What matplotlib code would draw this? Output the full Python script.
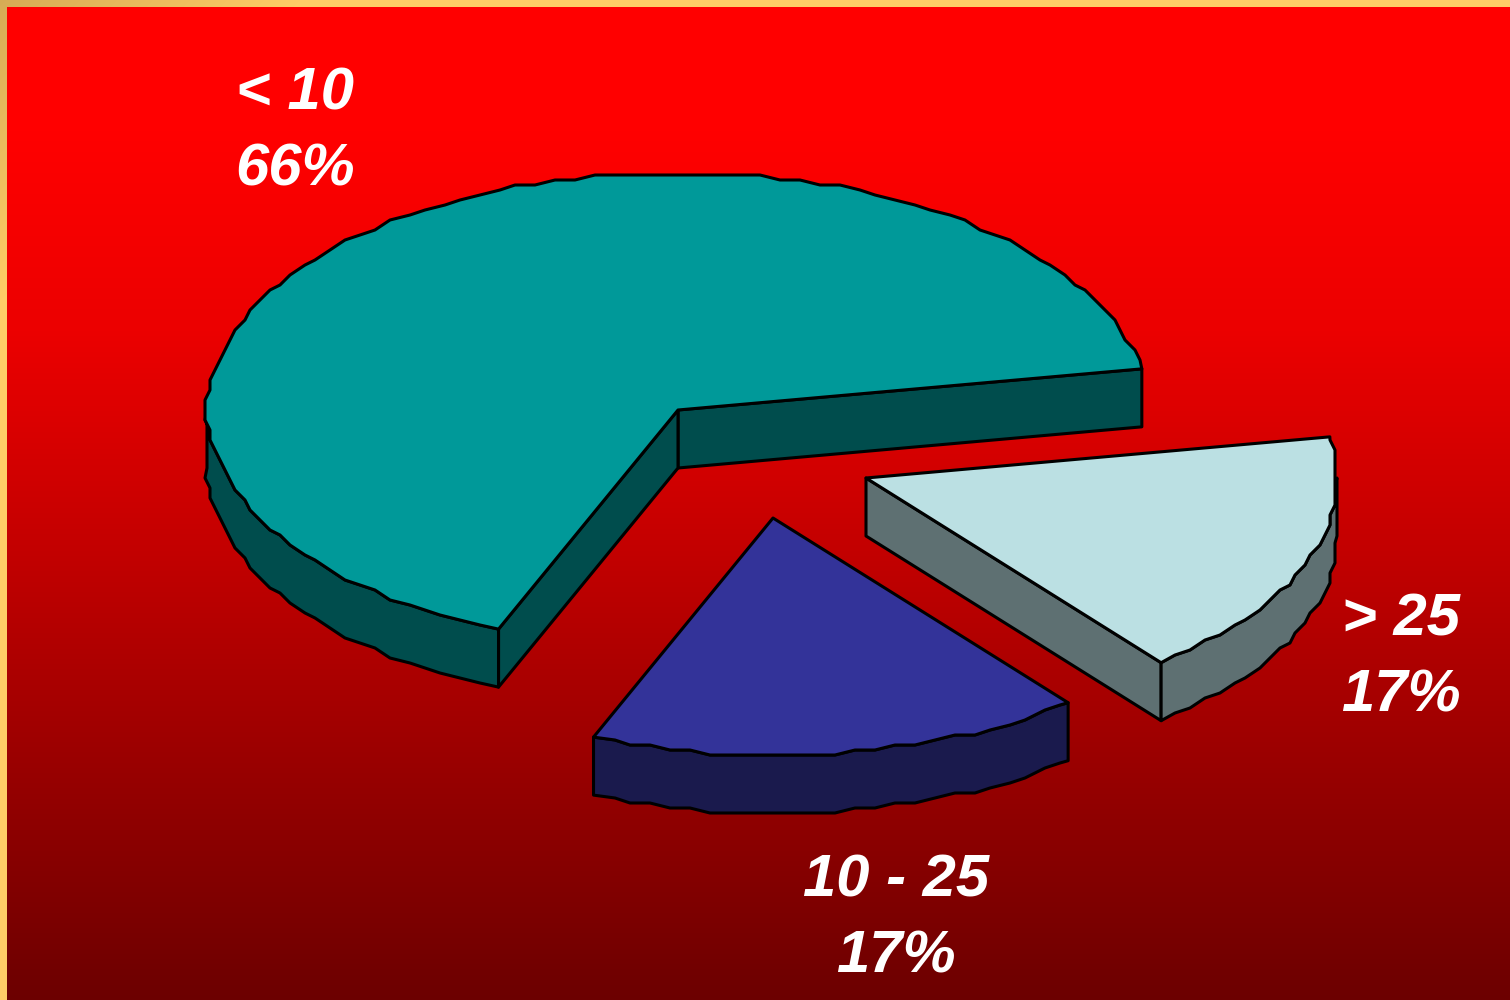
import numpy as np
import matplotlib
matplotlib.use("Agg")
import matplotlib.pyplot as plt
from matplotlib.patches import Polygon

plt.rcParams["font.family"] = ["Liberation Sans", "DejaVu Sans"]

# data
CATEGORIES = ["< 10", "10 - 25", "> 25"]
SHARES = [66, 17, 17]
SHARE_TOTAL = 100

# style and layout, in picture pixels
TOP_COLORS = ["#009999", "#333399", "#BBE0E3"]
WALL_COLORS = ["#004D4D", "#1A1A4D", "#5E7072"]
CENTERS = [(678, 410), (773, 518), (866, 478)]
LABEL_POS = [(295, 132), (896, 919), (1401, 658)]
RX, RY = 471, 237
DEPTH = 58
START_DEG = 10
GRID = 5  # the arcs in the original are stair-stepped


def ellipse_point(center, a):
    t = np.radians(a)
    return (center[0] + RX * np.cos(t), center[1] - RY * np.sin(t))


def arc_points(center, a0, a1):
    # ellipse arc, snapped to a coarse grid to get the rough edge
    pts = [ellipse_point(center, a0)]
    for a in np.arange(a0 + 2.5, a1 - 1, 2.5):
        x, y = ellipse_point(center, a)
        p = (round(x / GRID) * GRID, round(y / GRID) * GRID)
        if p != pts[-1]:
            pts.append(p)
    pts.append(ellipse_point(center, a1))
    return np.array(pts, dtype=float)


# background: red gradient, pale orange band on top and left
H, W = 1000, 1510
yy = np.arange(H)
red = np.interp(yy, [0, 130, 330, 550, 850, 1000], [255, 255, 236, 195, 137, 108])
bg = np.zeros((H, W, 3))
bg[:, :, 0] = red[:, None] / 255
band = np.array([255, 204, 102]) / 255
bg[:7, :] = band
bg[:, :7] = band
gx, gy = np.meshgrid(np.arange(W), np.arange(H))
shade = 1 - 0.16 * np.clip(1 - (gx + gy) / 300, 0, 1)
mask = (gx < 7) | (gy < 7)
bg[mask] *= shade[mask][:, None]

fig = plt.figure(figsize=(15.1, 10), dpi=100)
ax = fig.add_axes([0, 0, 1, 1])
ax.imshow(bg, extent=(0, W, H, 0), aspect="auto", interpolation="nearest", zorder=0)
ax.set_xlim(0, W)
ax.set_ylim(H, 0)
ax.axis("off")

edges = START_DEG + np.cumsum([0] + SHARES) * 360 / SHARE_TOTAL

for i, share in enumerate(SHARES):
    a0, a1 = edges[i], edges[i + 1]
    c = np.array(CENTERS[i], dtype=float)
    arc = arc_points(c, a0, a1)
    kw = dict(edgecolor="black", linewidth=2.2, joinstyle="round", zorder=2 + i)

    # only the cut faces turned towards the viewer
    for ang, visible in ((a0, np.cos(np.radians(a0)) > 0), (a1, np.cos(np.radians(a1)) < 0)):
        if visible:
            end = np.array(ellipse_point(c, ang))
            face = np.array([c, end, end + [0, DEPTH], c + [0, DEPTH]])
            ax.add_patch(Polygon(face, closed=True, facecolor=WALL_COLORS[i], **kw))

    # outer wall, front half of the ellipse only
    front = arc_points(c, max(a0, 180), min(a1, 360))
    wall = np.vstack([front, (front + [0, DEPTH])[::-1]])
    ax.add_patch(Polygon(wall, closed=True, facecolor=WALL_COLORS[i], **kw))

    ax.add_patch(Polygon(np.vstack([c, arc]), closed=True, facecolor=TOP_COLORS[i], **kw))

for name, share, (x, y) in zip(CATEGORIES, SHARES, LABEL_POS):
    ax.text(x, y, f"{name}\n{share}%", color="white", fontsize=43, fontweight="bold",
            fontstyle="italic", ha="center", va="center", linespacing=1.5, zorder=10)

fig.savefig("out.png", dpi=100)
